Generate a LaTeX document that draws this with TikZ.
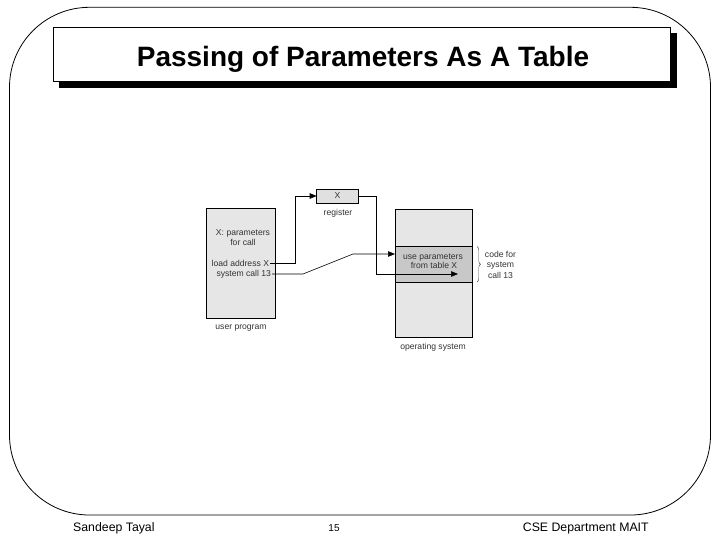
\documentclass[tikz,border=0pt]{standalone}
\usepackage{fontspec}
\setmainfont{Liberation Sans}
\usetikzlibrary{arrows.meta,decorations.pathreplacing}
\definecolor{boxgray}{HTML}{E6E6E6}
\definecolor{reggray}{HTML}{E0E0E0}
\definecolor{bandgray}{HTML}{C8C8C8}
\begin{document}
\begin{tikzpicture}[x=1pt,y=-1pt,
  box/.style={draw=black,line width=0.7pt,fill=boxgray,inner sep=0,outer sep=0},
  txt/.style={font=\fontsize{8.6}{10}\selectfont,text=black!80,inner sep=0,outer sep=0},
  conn/.style={draw=black,line width=0.6pt},
  tip/.style={-{Triangle[length=7pt,width=5.5pt]}},
  foot/.style={font=\fontsize{12.3}{14}\selectfont,inner sep=0,anchor=base west}]
\useasboundingbox (0,0) rectangle (720,540);
% outer frame
\draw[line width=0.8pt,rounded corners=80pt] (9.5,7.3) rectangle (710.5,515);
% title
\fill[black] (59,33) rectangle (676.7,87.7);
\node[draw=black,line width=0.9pt,fill=white,inner sep=0,minimum width=617.4,minimum height=53.7] (title) at (362,54.15) {};
\node[font=\bfseries\fontsize{28}{33}\selectfont,inner sep=0,anchor=base] (ttext) at (363,66.7) {Passing of Parameters As A Table};
% footer
\node[foot] (f1) at (73,531) {Sandeep Tayal};
\node[font=\fontsize{10}{12}\selectfont,inner sep=0,anchor=base] (f2) at (334,531) {15};
\node[foot] (f3) at (522.7,531) {CSE Department MAIT};
% user program
\node[box,minimum width=69,minimum height=110] (up) at (241.2,263) {};
\node[txt,anchor=mid] (xp) at (243,233) {X: parameters};
\node[txt,anchor=mid] (fc) at (243,243) {for call};
\node[txt,anchor=mid east] (ld) at (269,263.5) {load address X};
\node[txt,anchor=mid east] (sc) at (271,274) {system call 13};
\node[txt,anchor=mid] (upl) at (241,327) {user program};
% register
\node[box,fill=reggray,minimum width=41.6,minimum height=14] (reg) at (337.5,196) {};
\node[txt,anchor=mid] (regx) at (reg.center) {X};
\node[txt,anchor=mid] (regl) at (338,213) {register};
% operating system
\node[box,minimum width=77.7,minimum height=128] (os) at (433.85,273) {};
\node[box,fill=bandgray,minimum width=77.7,minimum height=35.3] (band) at (433.85,264.35) {};
\node[txt,anchor=mid] (up1) at (433,256.7) {use parameters};
\node[txt,anchor=mid] (up2) at (434,266) {from table X};
\node[txt,anchor=mid] (osl) at (433,347) {operating system};
\node[txt,anchor=mid] (cf1) at (500.5,255) {code for};
\node[txt,anchor=mid] (cf2) at (500.5,265) {system};
\node[txt,anchor=mid] (cf3) at (500.5,276) {call 13};
\draw[line width=0.4pt,black!75,decorate,decoration={brace,amplitude=3.5pt}] (477,246.5) -- (477,282);
% connectors
\coordinate (tipB) at (458,274);
\draw[conn,tip] ([xshift=1pt]ld.mid east) -- (295,263.5) |- (reg.west);
\draw[conn,tip] (reg.east) -| (376,274) -- (tipB);
\draw[conn,tip] ([xshift=1pt]sc.mid east) -- (303,274) -- (353,254) -- (band.west |- 353,254);
\end{tikzpicture}
\end{document}
